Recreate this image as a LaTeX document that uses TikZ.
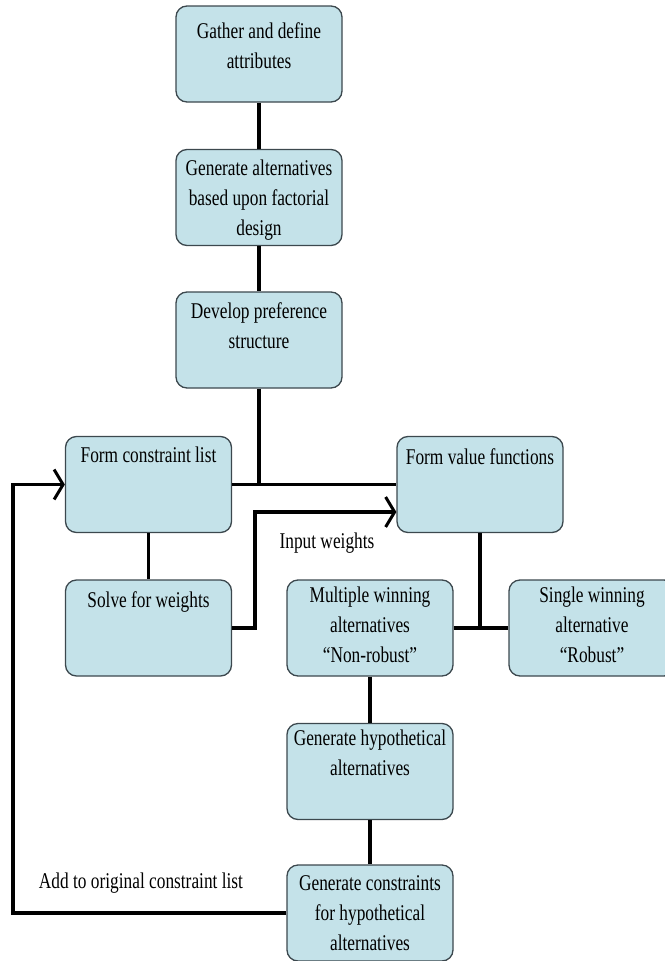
\documentclass[tikz,border=0pt]{standalone}
\usepackage{fontspec}
\setmainfont{Liberation Serif}[FakeStretch=0.77]
\usetikzlibrary{arrows.meta}
\definecolor{boxfill}{RGB}{196,226,233}
\definecolor{boxline}{RGB}{60,72,78}
\newcommand{\bt}[2]{\parbox[c][96pt][t]{166pt}{\vspace*{#1}\centering\strut #2}}
\tikzset{
  procbox/.style={rectangle, rounded corners=11pt, draw=boxline, line width=1.3pt,
    fill=boxfill, inner sep=0pt, font=\fontsize{22.5}{30}\selectfont},
  conn/.style={draw=black, line width=3.6pt},
  chev/.style={-{Straight Barb[length=9pt,width=30pt,line width=3pt]}},
  lbl/.style={font=\fontsize{22.5}{30}\selectfont, inner sep=0pt}
}
\begin{document}
\begin{tikzpicture}[x=1pt,y=-1pt]
\useasboundingbox (0,0) rectangle (664,961);
\node[procbox] (g1) at (259,54) {\bt{11pt}{Gather and define\\attributes}};
\node[procbox] (g2) at (259,197.5) {\bt{5pt}{Generate alternatives\\based upon factorial\\design}};
\node[procbox] (g3) at (259,340) {\bt{5pt}{Develop preference\\structure}};
\node[procbox] (fc) at (148.5,484.5) {\bt{5pt}{Form constraint list}};
\node[procbox] (fv) at (480,484.5) {\bt{7pt}{Form value functions}};
\node[procbox] (sw) at (148.5,628) {\bt{6pt}{Solve for weights}};
\node[procbox] (mw) at (370,628) {\bt{1pt}{Multiple winning\\alternatives\\“Non-robust”}};
\node[procbox] (sn) at (592,628) {\bt{1pt}{Single winning\\alternative\\“Robust”}};
\node[procbox] (gh) at (370,771.5) {\bt{1pt}{Generate hypothetical\\alternatives}};
\node[procbox] (gc) at (370,913) {\bt{4pt}{Generate constraints\\for hypothetical\\alternatives}};
\node[lbl] (iw) at (327,543) {Input weights};
\node[lbl] (ad) at (141,883) {Add to original constraint list};
\coordinate (lp) at (13,913);
\coordinate (ip) at (255,512);
% connectors
\draw[conn] (g1.south) -- (g2.north);
\draw[conn] (g2.south) -- (g3.north);
\draw[conn] (g3.south) -- (g3.south |- fc.east);
\draw[conn] (fc.east) -- (fv.west);
\draw[conn] (fc.south) -- (sw.north);
\draw[conn, chev] (sw.east) -| (ip) -- (ip -| fv.west);
\draw[conn] (fv.south) -- (fv.south |- mw.east);
\draw[conn] (mw.east) -- (sn.west);
\draw[conn] (mw.south) -- (gh.north);
\draw[conn] (gh.south) -- (gc.north);
\draw[conn, chev] (gc.west) -- (gc.west -| lp) -- (lp |- fc.west) -- (fc.west);
\end{tikzpicture}
\end{document}
